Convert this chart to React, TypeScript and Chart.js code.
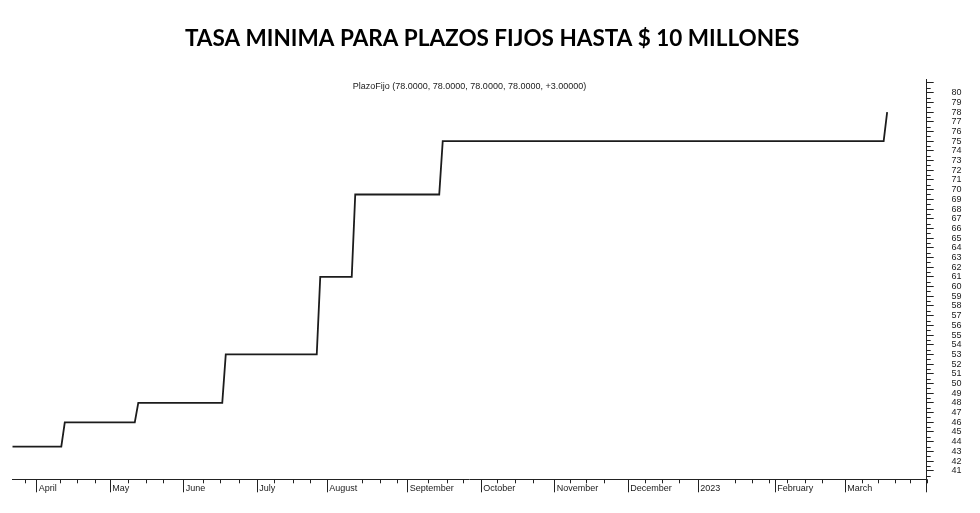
import React, { useEffect, useRef } from "react";
import { Chart, registerables } from "chart.js";

Chart.register(...registerables);

// ---- data ----
const titleText = "TASA MINIMA PARA PLAZOS FIJOS HASTA $ 10 MILLONES";
const legendText = "PlazoFijo (78.0000, 78.0000, 78.0000, 78.0000, +3.00000)";

// rate levels (%) and the trading-day index on which each level starts / ends
const rates = [43.5, 46, 48, 53, 61, 69.5, 75, 78];
const rateFirstDay = [0, 15, 36, 61, 88, 98, 123, 250];
const rateLastDay = [14, 35, 60, 87, 97, 122, 249, 250];

// x axis: month labels at the first trading day of each month
const monthLabels = ["April", "May", "June", "July", "August", "September", "October", "November", "December", "2023", "February", "March"];
const monthStartDay = [7, 28, 49, 70, 90, 113, 134, 155, 176, 196, 218, 238];
// weekly minor ticks (trading-day index)
const weekTickDays = [3.5, 13.7, 18.5, 23.7, 33.1, 38.3, 43.2, 54.5, 59.4, 64.9, 74.9, 80.2, 85.1, 99.9, 105.1, 109.9, 118.7, 124.2, 128.9, 138.5, 143.7, 148.8, 159.4, 164, 169, 180.9, 185.6, 190.4, 206.6, 211.3, 216.1, 221.3, 226.6, 231.3, 242.7, 247.5, 252.3, 256.6];

// y axis tick labels
const yTickValues = [41, 42, 43, 44, 45, 46, 47, 48, 49, 50, 51, 52, 53, 54, 55, 56, 57, 58, 59, 60, 61, 62, 63, 64, 65, 66, 67, 68, 69, 70, 71, 72, 73, 74, 75, 76, 77, 78, 79, 80, 81];
const yLabelMax = 80;

const X_MIN = 0;
const X_MAX = 261.3;
const Y_MIN = 40.12;
const Y_MAX = 81.35;

const AXIS_COLOR = "#222";
const TEXT_COLOR = "#1a1a1a";
const FONT = "'Liberation Sans', Arial, sans-serif";

const decorPlugin = {
  id: "decor",
  afterDraw(chart: any) {
    const { ctx, chartArea } = chart;
    const xs = chart.scales.x;
    const ys = chart.scales.y;
    ctx.save();
    ctx.strokeStyle = AXIS_COLOR;
    ctx.lineWidth = 1;
    ctx.beginPath();
    // weekly minor ticks on x axis
    for (const d of weekTickDays) {
      const px = Math.round(xs.getPixelForValue(d)) + 0.5;
      ctx.moveTo(px, chartArea.bottom);
      ctx.lineTo(px, chartArea.bottom + 4);
    }
    // half-unit minor ticks on y axis
    for (const v of yTickValues) {
      const h = v - 0.5;
      if (h < Y_MIN) continue;
      const py = Math.round(ys.getPixelForValue(h)) + 0.5;
      ctx.moveTo(chartArea.right, py);
      ctx.lineTo(chartArea.right + 4, py);
    }
    // small extension of y axis below x axis
    const rx = Math.round(chartArea.right) + 0.5;
    ctx.moveTo(rx, chartArea.bottom);
    ctx.lineTo(rx, chartArea.bottom + 4);
    ctx.stroke();

    // series legend text inside the plot
    ctx.fillStyle = TEXT_COLOR;
    ctx.font = `9px ${FONT}`;
    ctx.textAlign = "center";
    ctx.textBaseline = "middle";
    ctx.fillText(legendText, (chartArea.left + chartArea.right) / 2, chartArea.top + 7);
    ctx.restore();
  },
};

export default function App() {
  const canvasRef = useRef<HTMLCanvasElement | null>(null);

  useEffect(() => {
    if (!canvasRef.current) return;
    const points: { x: number; y: number }[] = [];
    rates.forEach((r, i) => {
      points.push({ x: rateFirstDay[i], y: r });
      if (rateLastDay[i] !== rateFirstDay[i]) points.push({ x: rateLastDay[i], y: r });
    });

    const chart = new Chart(canvasRef.current, {
      type: "line",
      data: {
        datasets: [
          {
            label: "PlazoFijo",
            data: points,
            borderColor: "#1c1c1c",
            borderWidth: 1.8,
            pointRadius: 0,
            tension: 0,
            fill: false,
          },
        ],
      },
      plugins: [decorPlugin],
      options: {
        animation: false,
        responsive: true,
        maintainAspectRatio: false,
        layout: { padding: { left: 4.3, right: 0, top: 0, bottom: 0 } },
        plugins: {
          legend: { display: false },
          tooltip: { enabled: false },
          title: {
            display: true,
            text: titleText,
            color: "#000",
            font: { family: "Lato, 'Open Sans', sans-serif", size: 22.5, weight: "bold", lineHeight: 1.2 },
            padding: { top: 17.3, bottom: 27.3 },
          },
        },
        scales: {
          x: {
            type: "linear",
            min: X_MIN,
            max: X_MAX,
            afterBuildTicks(scale: any) {
              scale.ticks = [...monthStartDay, X_MAX].map((v) => ({ value: v }));
            },
            afterFit(scale: any) {
              scale.height = 25.7;
              scale.paddingLeft = 0;
              scale.paddingRight = 0;
            },
            ticks: {
              autoSkip: false,
              maxRotation: 0,
              minRotation: 0,
              align: "start",
              labelOffset: 2,
              padding: -9.2,
              color: TEXT_COLOR,
              font: { family: FONT, size: 9 },
              callback: (_v: any, i: number) => monthLabels[i] ?? "",
            },
            grid: {
              display: true,
              drawOnChartArea: false,
              drawTicks: true,
              tickLength: 13,
              tickColor: AXIS_COLOR,
              tickWidth: 1,
            },
            border: { display: true, color: AXIS_COLOR, width: 1 },
          },
          y: {
            type: "linear",
            position: "right",
            min: Y_MIN,
            max: Y_MAX,
            afterBuildTicks(scale: any) {
              scale.ticks = yTickValues.map((v) => ({ value: v }));
            },
            afterFit(scale: any) {
              scale.width = 45.3;
              scale.paddingTop = 0;
              scale.paddingBottom = 0;
            },
            ticks: {
              autoSkip: false,
              padding: 17.8,
              color: TEXT_COLOR,
              font: { family: FONT, size: 9 },
              callback: (v: any) => (v > yLabelMax ? "" : String(v)),
            },
            grid: {
              display: true,
              drawOnChartArea: false,
              drawTicks: true,
              tickLength: 7,
              tickColor: AXIS_COLOR,
              tickWidth: 1,
            },
            border: { display: true, color: AXIS_COLOR, width: 1 },
          },
        },
      },
    });
    return () => chart.destroy();
  }, []);

  return (
    <div style={{ position: "relative", width: "100%", height: "497px" }}>
      <canvas ref={canvasRef} />
    </div>
  );
}
